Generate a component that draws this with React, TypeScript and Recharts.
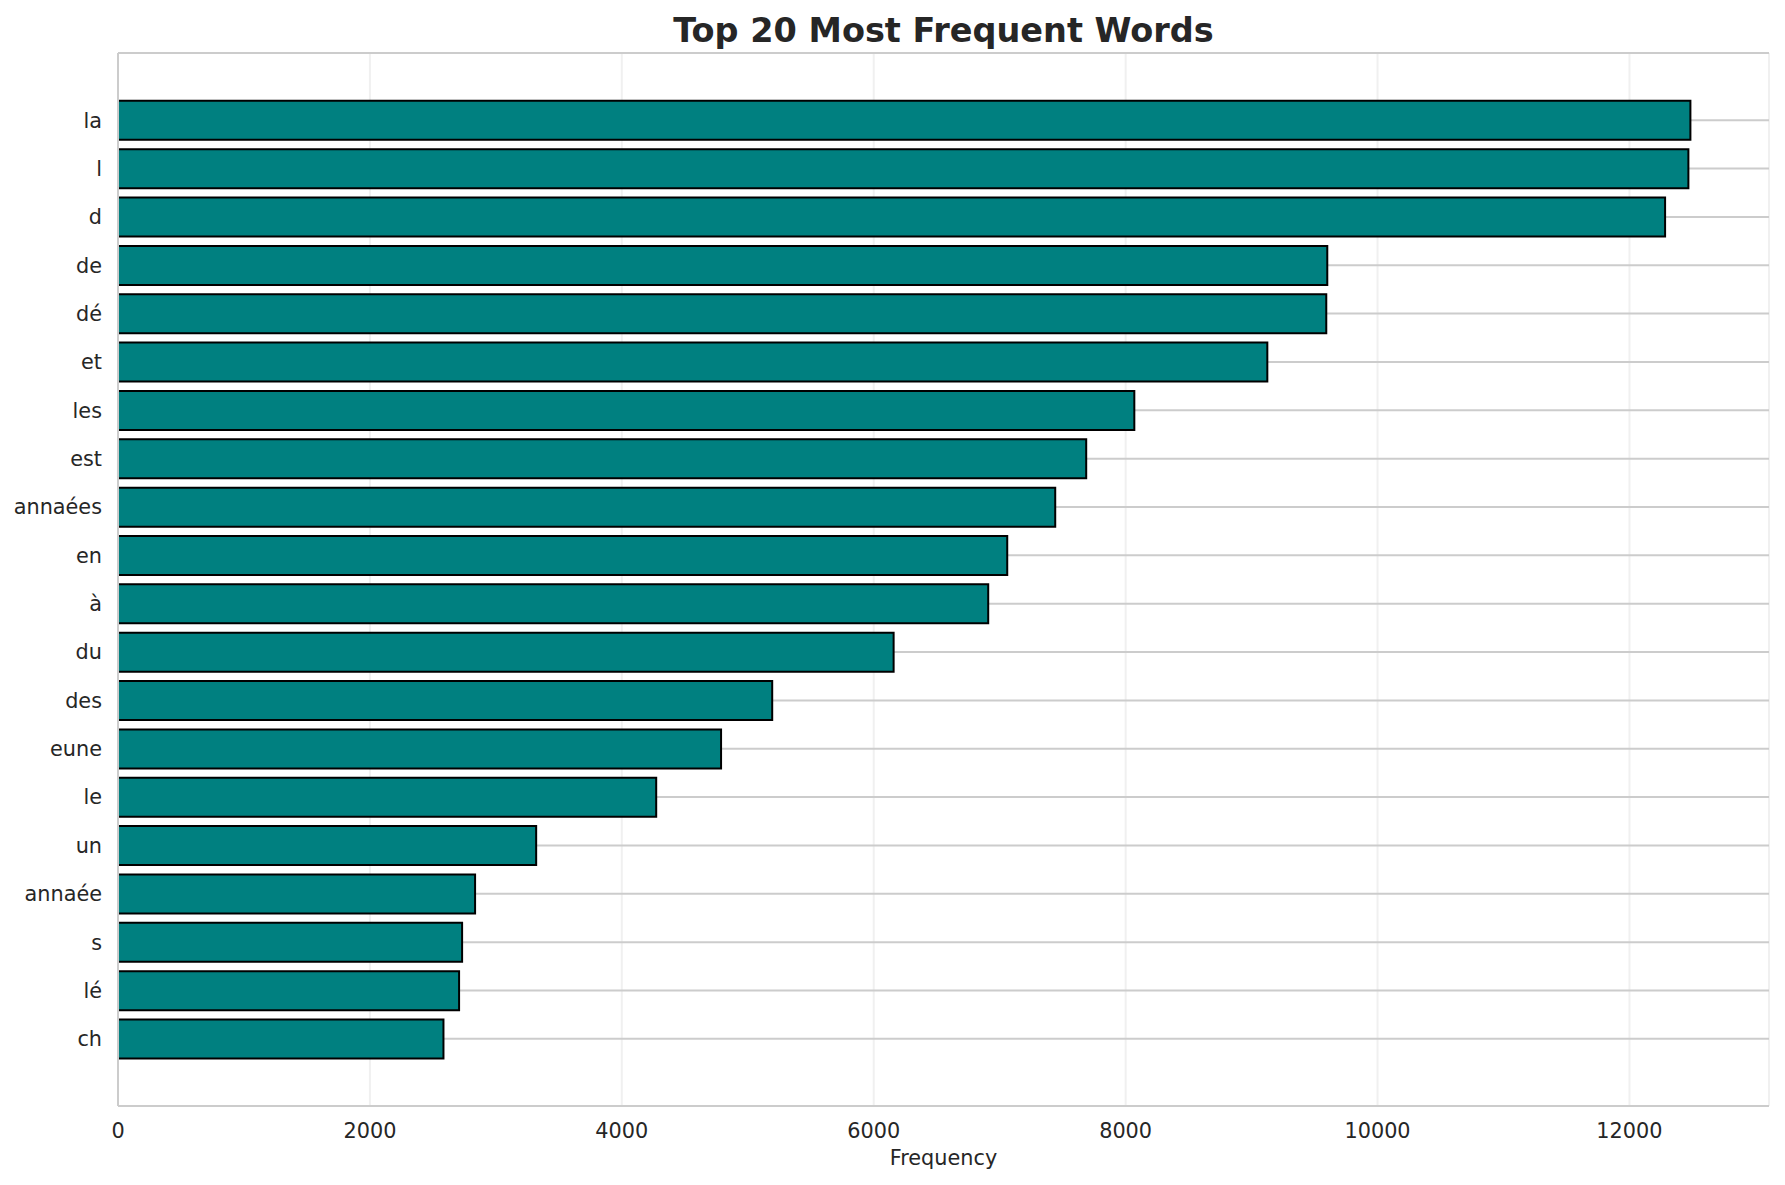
import { Bar, BarChart, CartesianGrid, Label, XAxis, YAxis } from "recharts";

// word frequencies, most frequent first
const words = [
  "la", "l", "d", "de", "dé", "et", "les", "est", "annaées", "en",
  "à", "du", "des", "eune", "le", "un", "annaée", "s", "lé", "ch",
];
const counts = [
  12484, 12468, 12283, 9601, 9593, 9125, 8069, 7687, 7441, 7060,
  6909, 6158, 5194, 4788, 4273, 3320, 2835, 2732, 2708, 2584,
];
const xTicks = [0, 2000, 4000, 6000, 8000, 10000, 12000];
const xMax = 13108;
const title = "Top 20 Most Frequent Words";

const data = words.map((word, i) => ({ word, count: counts[i] }));

const font = "'DejaVu Sans', sans-serif";
const ink = "#262626";
const spine = "#cccccc";

export default function App() {
  return (
    <div
      style={{
        position: "absolute",
        left: 0,
        top: 0,
        width: 1785,
        height: 1185,
        background: "#fff",
      }}
    >
      <BarChart
        width={1785}
        height={1185}
        data={data}
        layout="vertical"
        barCategoryGap="10%"
        margin={{ top: 53, right: 16, bottom: 0, left: 0 }}
      >
        <CartesianGrid horizontal={false} stroke="#f0f0f0" strokeWidth={2} />
        <CartesianGrid vertical={false} stroke={spine} strokeWidth={2} />
        <XAxis
          type="number"
          dataKey="count"
          domain={[0, xMax]}
          ticks={xTicks}
          height={79}
          axisLine={{ stroke: spine, strokeWidth: 2 }}
          tickLine={false}
          tickSize={8}
          tickMargin={9.5}
          tick={{ fontSize: 20.8, fill: ink, fontFamily: font }}
        >
          <Label
            value="Frequency"
            position="insideBottom"
            offset={20}
            style={{ fontSize: 20.8, fill: ink, fontFamily: font }}
          />
        </XAxis>
        <XAxis
          xAxisId="top"
          orientation="top"
          type="number"
          domain={[0, xMax]}
          height={0}
          tick={false}
          tickLine={false}
          axisLine={{ stroke: spine, strokeWidth: 2 }}
        />
        <YAxis
          type="category"
          dataKey="word"
          width={118}
          interval={0}
          padding={{ top: 43, bottom: 43 }}
          axisLine={{ stroke: spine, strokeWidth: 2 }}
          tickLine={false}
          tickSize={8}
          tickMargin={8}
          tick={{ fontSize: 20.8, fill: ink, fontFamily: font }}
        />
        <YAxis
          yAxisId="right"
          orientation="right"
          type="category"
          dataKey="word"
          width={0}
          tick={false}
          tickLine={false}
          axisLine={{ stroke: spine, strokeWidth: 2 }}
        />
        <Bar
          dataKey="count"
          fill="#008080"
          stroke="#000000"
          strokeWidth={2}
          isAnimationActive={false}
        />
      </BarChart>
      <svg
        width={1785}
        height={53}
        style={{ position: "absolute", left: 0, top: 0, pointerEvents: "none" }}
      >
        <text
          x={943.5}
          y={41.5}
          textAnchor="middle"
          fontSize={33.5}
          fontWeight="bold"
          fill={ink}
          fontFamily={font}
        >
          {title}
        </text>
      </svg>
    </div>
  );
}
